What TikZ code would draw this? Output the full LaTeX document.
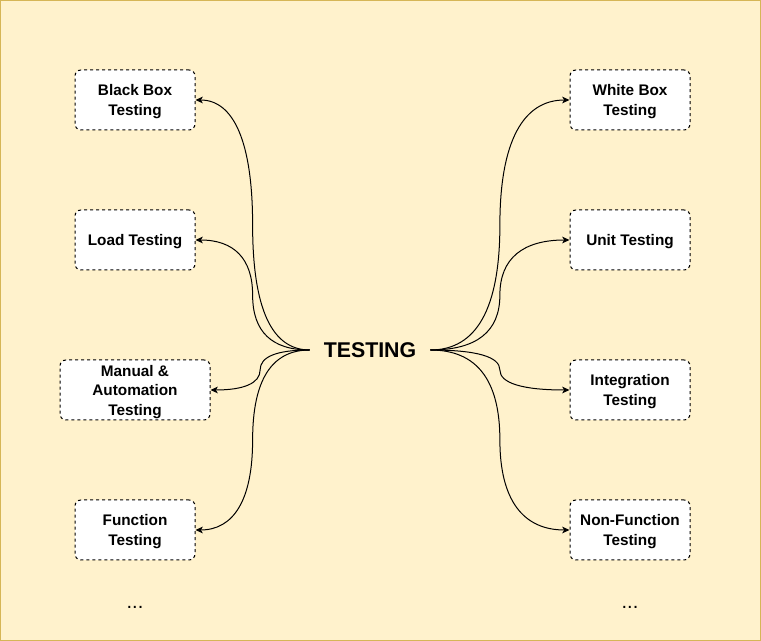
\documentclass[tikz,border=0pt]{standalone}
\usepackage{fontspec}
\setmainfont{Liberation Sans}
\usepackage{tikz}
\usetikzlibrary{calc}
\usetikzlibrary{arrows.meta}
\definecolor{paper}{HTML}{FFF2CC}
\definecolor{paperline}{HTML}{D6B656}
\tikzset{kindbox/.style={draw,fill=white,dash pattern=on 2.25pt off 2.25pt,line width=0.75pt,rounded corners=4.5pt,
    minimum width=90pt,minimum height=45pt,align=center,text depth=0pt,font=\fontsize{11.5}{14.6}\selectfont\bfseries}}
\tikzset{root/.style={minimum width=90pt,minimum height=30pt,font=\fontsize{16}{19}\selectfont\bfseries}}
\tikzset{branch/.style={line width=0.75pt,-{Stealth[length=5.5pt,width=5pt,inset=1.5pt]}}}

\begin{document}
\begin{tikzpicture}[x=0.75pt,y=-0.75pt]
	\useasboundingbox (0,0) rectangle (761,641);
	\draw[paperline,fill=paper,line width=0.75pt] (0.5,0.5) rectangle (760.5,640.5);
	\node[root] (test) at (370,350) {TESTING};
	% left side
	\node[kindbox] (bb) at (135,100) {Black Box\\Testing};
	\node[kindbox] (ld) at (135,240) {Load Testing};
	\node[kindbox,minimum width=112.5pt] (ma) at (135,390) {Manual \&\\Automation\\Testing};
	\node[kindbox] (fn) at (135,530) {Function\\Testing};
	% right side
	\node[kindbox] (wb) at (630,100) {White Box\\Testing};
	\node[kindbox] (ut) at (630,240) {Unit Testing};
	\node[kindbox] (it) at (630,390) {Integration\\Testing};
	\node[kindbox] (nf) at (630,530) {Non-Function\\Testing};
	\node[font=\fontsize{15}{17}\selectfont] (moreleft) at (135,607) {...};
	\node[font=\fontsize{15}{17}\selectfont] (moreright) at (630,607) {...};
	\foreach \t in {bb,ld,ma,fn}{
		\coordinate (m-\t) at ($(test.west)!.5!(\t.east)$);
		\draw[branch] (test.west) .. controls ($(test.west)!.667!(test.west -| m-\t)$) and ($(m-\t)!.667!(test.west -| m-\t)$) .. (m-\t)
			.. controls ($(m-\t)!.667!(m-\t |- \t.east)$) and ($(\t.east)!.667!(m-\t |- \t.east)$) .. (\t.east);
	}
	\foreach \t in {wb,ut,it,nf}{
		\coordinate (m-\t) at ($(test.east)!.5!(\t.west)$);
		\draw[branch] (test.east) .. controls ($(test.east)!.667!(test.east -| m-\t)$) and ($(m-\t)!.667!(test.east -| m-\t)$) .. (m-\t)
			.. controls ($(m-\t)!.667!(m-\t |- \t.west)$) and ($(\t.west)!.667!(m-\t |- \t.west)$) .. (\t.west);
	}
\end{tikzpicture}
\end{document}
